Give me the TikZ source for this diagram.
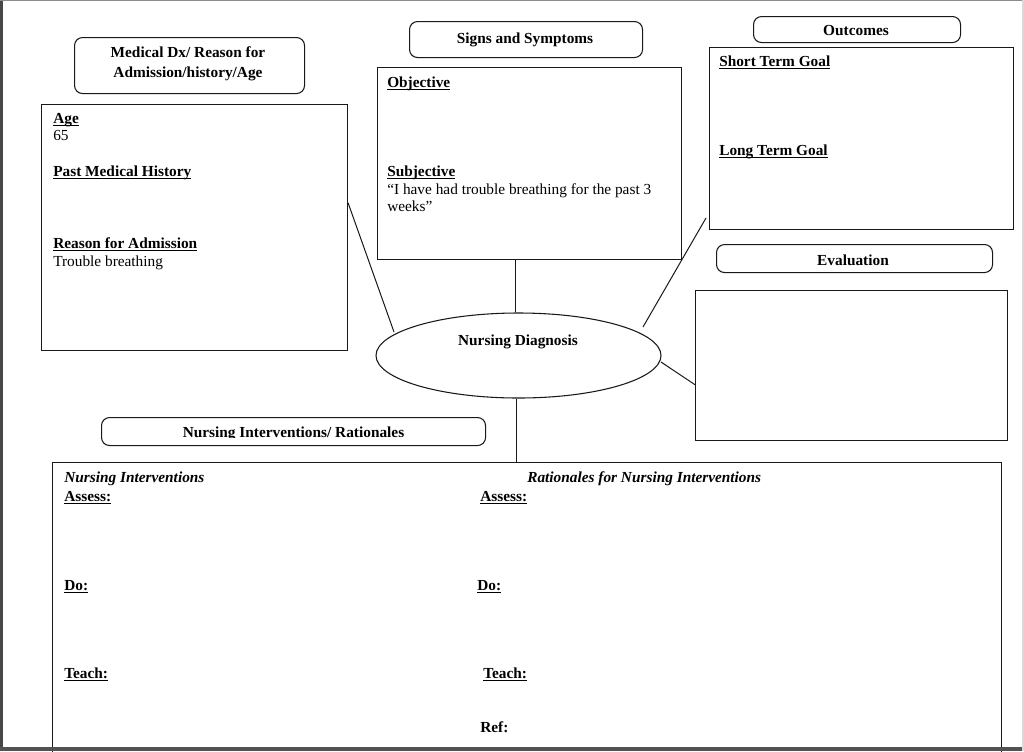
\documentclass[tikz,border=0pt]{standalone}
\usepackage{fontspec}
\setmainfont{Liberation Serif}
\usetikzlibrary{shapes.geometric,calc}
\newcommand\myul[1]{\setbox0\hbox{#1}\rlap{\rule[-1.9pt]{\wd0}{0.7pt}}\box0}
\begin{document}
\begin{tikzpicture}[x=0.75pt,y=-0.75pt,
  box/.style={draw=black!90, line width=0.8pt, rectangle, inner sep=0pt, anchor=north west},
  hdr/.style={box, rounded corners=6pt},
  txt/.style={anchor=base west, inner sep=0pt, font=\fontsize{11.5}{13}\selectfont},
  btxt/.style={txt, font=\fontsize{11.5}{13}\selectfont\bfseries},
  bitxt/.style={txt, font=\fontsize{11.5}{13}\selectfont\bfseries\itshape},
  ctxt/.style={anchor=base, inner sep=0pt, font=\fontsize{11.5}{13}\selectfont\bfseries},
  link/.style={draw=black!90, line width=0.75pt}]
\useasboundingbox (0,0) rectangle (1024,751);
\fill[white] (0,0) rectangle (1024,751);

% boxes
\node[hdr, minimum width=172.5pt, minimum height=42pt] (medhdr) at (74,37) {};
\node[box, minimum width=229.5pt, minimum height=184.5pt] (left) at (41,104) {};
\node[hdr, minimum width=174.75pt, minimum height=27pt] (sshdr) at (409,21) {};
\node[box, minimum width=228pt, minimum height=144pt] (obj) at (377,67) {};
\node[hdr, minimum width=155.25pt, minimum height=19.5pt] (outhdr) at (753,16) {};
\node[box, minimum width=228pt, minimum height=136.5pt] (goal) at (709,47) {};
\node[hdr, minimum width=207pt, minimum height=21pt] (evalhdr) at (716,244) {};
\node[box, minimum width=234pt, minimum height=112.5pt] (evalbox) at (695,290) {};
\node[hdr, minimum width=288pt, minimum height=21pt] (nihdr) at (101,417) {};
\node[box, minimum width=711.75pt, minimum height=225pt] (bot) at (52,462) {};
\node[draw=black!90, line width=0.8pt, ellipse, inner sep=0pt, minimum width=213.75pt, minimum height=63.75pt] (nd) at (518.5,355.5) {};

% connectors
\draw[link] ($(left.north east)!0.4!(left.south east)$) -- ($(nd.center)+(-124.5,-23.5)$);
\draw[link] ($(obj.south west)!0.455!(obj.south east)$) coordinate (objb) -- (nd.north -| objb);
\draw[link] ($(nd.center)+(124.5,-28.5)$) -- ($(goal.north west)!0.934!(goal.south west)+(-3,0)$);
\draw[link] ($(nd.center)+(142.5,6.5)$) -- ($(evalbox.north west)!0.627!(evalbox.south west)$);
\draw[link] ($(nd.south)+(-2.5,0)$) coordinate (ndb) -- (ndb |- bot.north);

% header texts
\node[ctxt] (medt1) at (188,57) {Medical Dx/ Reason for};
\node[ctxt] (medt2) at (188,77) {Admission/history/Age};
\node[ctxt] (sst) at (525,43) {Signs and Symptoms};
\node[ctxt] (outt) at (856,35) {Outcomes};
\node[ctxt] (evalt) at (853,265) {Evaluation};
\node[ctxt] (ndt) at (518,345) {Nursing Diagnosis};
\begin{scope}
\clip (101,417) rectangle (485,437.5);
\node[ctxt] (nit) at (293.5,437) {Nursing Interventions/ Rationales};
\end{scope}

% left box
\node[btxt] (age) at (53,123) {\myul{Age}};
\node[txt] (agev) at (53,140) {65};
\node[btxt] (pmh) at (53,176) {\myul{Past Medical History}};
\node[btxt] (rfa) at (53,248) {\myul{Reason for Admission}};
\node[txt] (rfav) at (53,266) {Trouble breathing};

% signs and symptoms
\node[btxt] (objt) at (387,87) {\myul{Objective}};
\node[btxt] (subt) at (387,176) {\myul{Subjective}};
\node[txt] (subv1) at (387,194) {“I have had trouble breathing for the past 3};
\node[txt] (subv2) at (387,211) {weeks”};

% outcomes
\node[btxt] (stg) at (719,66) {\myul{Short Term Goal}};
\node[btxt] (ltg) at (719,155) {\myul{Long Term Goal}};

% bottom box
\node[bitxt] (nint) at (64,482) {Nursing Interventions};
\node[btxt] (as1) at (64,501) {\myul{Assess:}};
\node[btxt] (do1) at (64,590) {\myul{Do:}};
\node[btxt] (te1) at (64,678) {\myul{Teach:}};
\node[bitxt] (rat) at (527,482) {Rationales for Nursing Interventions};
\node[btxt] (as2) at (480,501) {\myul{Assess:}};
\node[btxt] (do2) at (477,590) {\myul{Do:}};
\node[btxt] (te2) at (483,678) {\myul{Teach:}};
\node[btxt] (ref) at (480,732) {Ref:};

% frame
\fill[black!72] (0,0) rectangle (3,751);
\fill[black!45] (0,0) rectangle (1024,1);
\fill[black!68] (0,747) rectangle (1024,751);
\fill[black!15] (1022,0) rectangle (1024,751);
\end{tikzpicture}
\end{document}
